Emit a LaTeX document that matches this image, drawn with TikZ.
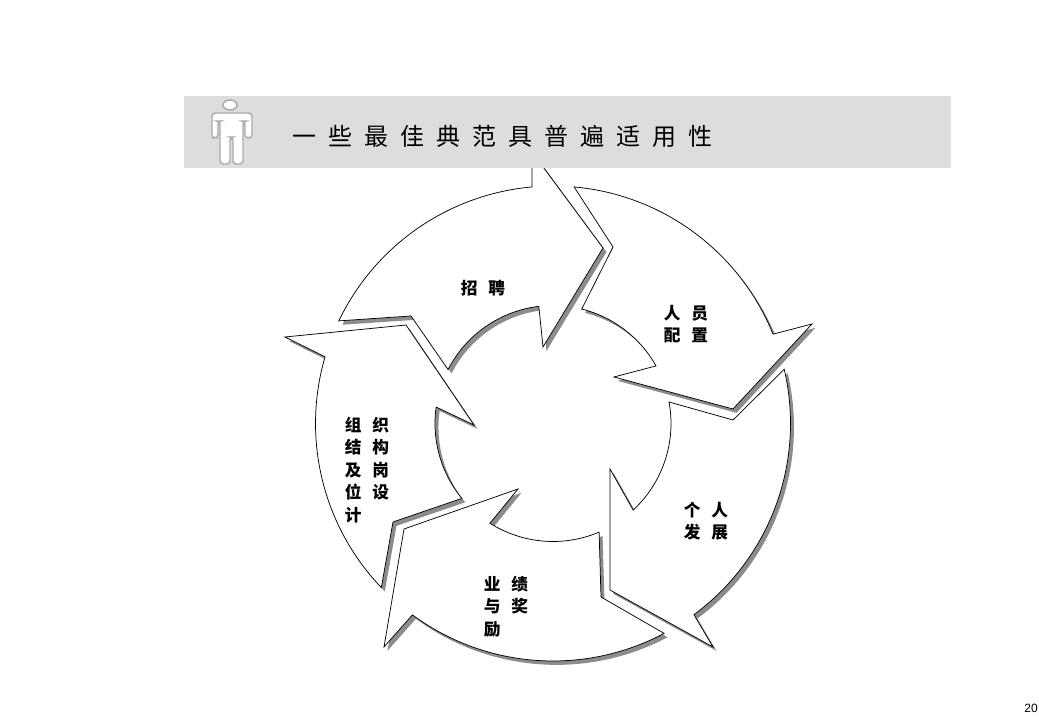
\documentclass[tikz,border=0pt]{standalone}
\usepackage{fontspec}
\usetikzlibrary{calc,shadows,shapes.geometric}
\newfontfamily\cjkfont{Noto Sans CJK SC}
\setsansfont{Liberation Sans}
\definecolor{Bannercolor}{RGB}{221, 221, 221}
\definecolor{Shadowcolor}{RGB}{140, 140, 140}
\definecolor{Personcolor}{RGB}{170, 170, 170}
\def\outerradius{237.5}
\def\innerradius{118}
\tikzset{
    arrowbody/.style={draw=black, fill=white, line width=0.55pt, line join=miter,
        drop shadow={shadow xshift=2.6pt, shadow yshift=-2.9pt, fill=Shadowcolor, opacity=1}},
    arrowlabel/.style={inner sep=0pt, align=left, font={\cjkfont\bfseries\fontsize{12.5pt}{16.9pt}\selectfont\spaceskip=8.1pt\relax}},
    titlelabel/.style={inner sep=0pt, font={\cjkfont\fontsize{18pt}{20pt}\selectfont\spaceskip=9pt\relax}},
}

\begin{document}
\begin{tikzpicture}[x=0.75pt, y=0.75pt]
    \useasboundingbox (0, 0) rectangle (1039, 720);
    \coordinate (hub) at (553, 296.5);
    % five arrows
    \draw[arrowbody] ($(hub)+(154.4:\outerradius)$) arc[start angle=154.4, end angle=95.1, radius=\outerradius]
        -- (532, 568) -- (603, 472) -- (543, 373)
        -- ($(hub)+(96.9:\innerradius)$) arc[start angle=96.9, end angle=152.8, radius=\innerradius]
        -- (411, 404) -- cycle;
    \draw[arrowbody] ($(hub)+(84.9:\outerradius)$) arc[start angle=84.9, end angle=22.1, radius=\outerradius]
        -- (812, 396) -- (733, 311) -- (614, 343)
        -- ($(hub)+(29.2:\innerradius)$) arc[start angle=29.2, end angle=75.9, radius=\innerradius]
        -- (613, 473) -- cycle;
    \draw[arrowbody] ($(hub)+(13.2:\outerradius)$) arc[start angle=13.2, end angle=-53.6, radius=\outerradius]
        -- (713, 73) -- (610, 130) -- (610, 251)
        -- ($(hub)+(-47.2:\innerradius)$) arc[start angle=-47.2, end angle=10.5, radius=\innerradius]
        -- (733, 300) -- cycle;
    \draw[arrowbody] ($(hub)+(-62.1:\outerradius)$) arc[start angle=-62.1, end angle=-126.3, radius=\outerradius]
        -- (384, 73) -- (404, 191) -- (518, 231)
        -- ($(hub)+(-122.3:\innerradius)$) arc[start angle=-122.3, end angle=-67, radius=\innerradius]
        -- (601, 123) -- cycle;
    \draw[arrowbody] ($(hub)+(223.7:\outerradius)$) arc[start angle=223.7, end angle=163.7, radius=\outerradius]
        -- (285, 383) -- (406, 395) -- (474, 295)
        -- ($(hub)+(172:\innerradius)$) arc[start angle=172, end angle=219.4, radius=\innerradius]
        -- (393, 198) -- cycle;
    % arrow labels
    \node[arrowlabel] (hire) at (483, 432) {招 聘};
    \node[arrowlabel] (staff) at (686, 396) {人 员\\配 置};
    \node[arrowlabel] (growth) at (706, 199) {个 人\\发 展};
    \node[arrowlabel] (reward) at (506, 113.5) {业 绩\\与 奖\\励};
    \node[arrowlabel] (design) at (367, 250) {组 织\\结 构\\及 岗\\位 设\\计};
    % banner
    \fill[Bannercolor] (184, 552) rectangle (951, 624);
    \node[titlelabel] (title) at (502, 584) {一 些 最 佳 典 范 具 普 遍 适 用 性};
    % person
    \draw[Personcolor, fill=white, line width=1.1pt, rounded corners=2.5] (212, 607) -- (212, 582) -- (218, 582) -- (218, 599) -- (220, 599)
        -- (220, 556) -- (230, 556) -- (230, 583) -- (233, 583) -- (233, 556) -- (243, 556)
        -- (243, 599) -- (245, 599) -- (245, 582) -- (252, 582) -- (252, 607) -- cycle;
    \node[draw=Personcolor, fill=white, line width=1.1pt, shape=ellipse, minimum width=10.5pt, minimum height=7.5pt, inner sep=0pt] (head) at (230, 615) {};
    % page number
    \node[font={\sffamily\fontsize{9pt}{10pt}\selectfont}, inner sep=0pt] (page) at (1031, 12) {20};
\end{tikzpicture}
\end{document}
